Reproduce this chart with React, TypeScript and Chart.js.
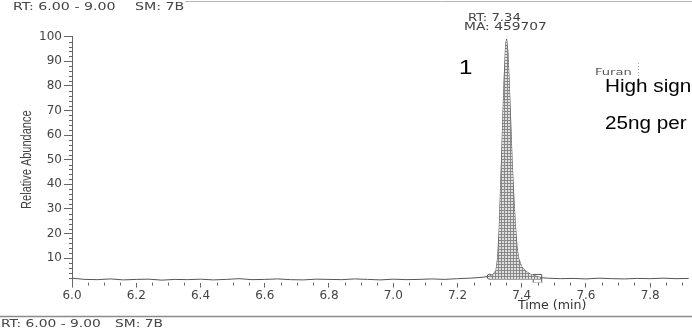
import { useEffect, useRef } from 'react';
import { Chart, registerables } from 'chart.js';

Chart.register(...registerables);

// ---- data ----
const baseTimes = [6.0, 6.04, 6.08, 6.12, 6.16, 6.2, 6.24, 6.28, 6.32, 6.36, 6.4, 6.44, 6.48, 6.52, 6.56, 6.6, 6.64, 6.68, 6.72, 6.76, 6.8, 6.84, 6.88, 6.92, 6.96, 7.0, 7.04, 7.08, 7.12, 7.16, 7.2, 7.24, 7.28];
const baseValues = [1.8, 1.3, 1.2, 1.5, 1.1, 1.3, 1.4, 1.0, 1.3, 1.2, 1.4, 1.1, 1.3, 1.6, 1.2, 1.3, 1.5, 1.2, 1.1, 1.4, 1.3, 1.2, 1.5, 1.3, 1.1, 1.4, 1.2, 1.3, 1.5, 1.3, 1.6, 1.8, 2.2];
const peakTimes = [7.3, 7.31, 7.32, 7.325, 7.33, 7.335, 7.34, 7.345, 7.35, 7.353, 7.357, 7.36, 7.365, 7.37, 7.375, 7.38, 7.385, 7.39, 7.4, 7.41, 7.42, 7.43, 7.44, 7.45, 7.46];
const peakValues = [2.6, 3.2, 5, 10, 22, 42, 62, 82, 97, 99, 94, 85, 68, 50, 36, 24, 15, 10, 6.5, 5, 4, 3.2, 2.8, 2.4, 2.0];
const tailTimes = [7.48, 7.52, 7.56, 7.6, 7.64, 7.68, 7.72, 7.76, 7.8, 7.84, 7.88, 7.92];
const tailValues = [1.8, 1.6, 1.7, 1.5, 1.8, 1.6, 1.5, 1.7, 1.6, 1.8, 1.6, 1.7];

const markerTimes = [7.3, 7.449];
const markerValues = [2.4, 1.6];

const xTickValues = [6.0, 6.2, 6.4, 6.6, 6.8, 7.0, 7.2, 7.4, 7.6, 7.8];
const yTickValues = [10, 20, 30, 40, 50, 60, 70, 80, 90, 100];

const headerRange = 'RT: 6.00 - 9.00';
const headerSmooth = 'SM: 7B';
const peakRT = 'RT: 7.34';
const peakArea = 'MA: 459707';
const peakNumber = '1';
const compoundName = 'Furan';
const noteLine1 = 'High signal';
const noteLine2 = '25ng per ml';
const yTitle = 'Relative Abundance';
const xTitle = 'Time (min)';

const X_MIN = 6.0;
const X_MAX = 7.927;

const scanFont = '"DejaVu Sans", sans-serif';

function stretchedText(ctx: CanvasRenderingContext2D, text: string, x: number, y: number, font: string, color: string, sx: number) {
  ctx.save();
  ctx.font = font;
  ctx.fillStyle = color;
  ctx.textAlign = 'left';
  ctx.textBaseline = 'alphabetic';
  ctx.translate(x, y);
  ctx.scale(sx, 1);
  ctx.fillText(text, 0, 0);
  ctx.restore();
}

const decorPlugin = {
  id: 'decor',
  afterDraw(chart: any) {
    const ctx: CanvasRenderingContext2D = chart.ctx;
    const xs = chart.scales.x;
    const ys = chart.scales.y;
    const area = chart.chartArea;
    ctx.save();
    // minor ticks
    ctx.strokeStyle = '#666';
    ctx.lineWidth = 1;
    ctx.beginPath();
    for (let i = 0; i <= 38; i++) {
      if (i % 4 === 0) continue;
      const v = X_MIN + i * 0.05;
      if (v > X_MAX) break;
      const px = Math.round(xs.getPixelForValue(v)) + 0.5;
      ctx.moveTo(px, area.bottom);
      ctx.lineTo(px, area.bottom + 3);
    }
    for (let i = 1; i <= 50; i++) {
      if (i % 5 === 0) continue;
      const py = Math.round(ys.getPixelForValue(i * 2)) + 0.5;
      ctx.moveTo(area.left - 3, py);
      ctx.lineTo(area.left, py);
    }
    ctx.stroke();

    // scan frame lines
    ctx.strokeStyle = '#b5b5b5';
    ctx.beginPath();
    ctx.moveTo(185, 1.5);
    ctx.lineTo(698, 1.5);
    ctx.stroke();
    ctx.strokeStyle = '#8a8a8a';
    ctx.lineWidth = 1.3;
    ctx.beginPath();
    ctx.moveTo(0, 316.5);
    ctx.lineTo(698, 316.5);
    ctx.stroke();

    // header / footer
    const f10 = `10px ${scanFont}`;
    stretchedText(ctx, headerRange, 13, 10, f10, '#444', 1.42);
    stretchedText(ctx, headerSmooth, 135, 10, f10, '#444', 1.42);
    stretchedText(ctx, headerRange, 1, 327, f10, '#444', 1.38);
    stretchedText(ctx, headerSmooth, 115, 327, f10, '#444', 1.38);

    // peak annotation
    stretchedText(ctx, peakRT, 468, 21, f10, '#444', 1.32);
    stretchedText(ctx, peakArea, 464, 29.5, f10, '#444', 1.38);
    stretchedText(ctx, compoundName, 595, 75, `9px ${scanFont}`, '#555', 1.45);
    ctx.strokeStyle = '#aaa';
    ctx.lineWidth = 1;
    ctx.setLineDash([1, 2]);
    ctx.beginPath();
    ctx.moveTo(638.5, 63);
    ctx.lineTo(638.5, 81);
    ctx.stroke();
    ctx.setLineDash([]);

    // overlay texts
    const arial = '"Liberation Sans", Arial, sans-serif';
    stretchedText(ctx, peakNumber, 459, 74, `21px ${arial}`, '#000', 1.15);
    stretchedText(ctx, noteLine1, 605, 92, `18px ${arial}`, '#000', 1.15);
    stretchedText(ctx, noteLine2, 605, 129, `18px ${arial}`, '#000', 1.15);

    // axis titles
    stretchedText(ctx, xTitle, 518, 309, `12px ${scanFont}`, '#333', 1.05);
    ctx.save();
    ctx.translate(26.7, (ys.getPixelForValue(100) + ys.getPixelForValue(0)) / 2);
    ctx.rotate(-Math.PI / 2);
    ctx.scale(1, 1.35);
    ctx.font = `11px ${arial}`;
    ctx.fillStyle = '#444';
    ctx.textAlign = 'center';
    ctx.textBaseline = 'middle';
    ctx.fillText(yTitle, 0, 0);
    ctx.restore();

    ctx.restore();
  },
};

export default function App() {
  const ref = useRef<HTMLCanvasElement | null>(null);

  useEffect(() => {
    document.body.style.margin = '0';
    const canvas = ref.current;
    if (!canvas) return;
    const ctx = canvas.getContext('2d')!;

    const pc = document.createElement('canvas');
    pc.width = 3;
    pc.height = 3;
    const p = pc.getContext('2d')!;
    p.fillStyle = '#e0e0e0';
    p.fillRect(0, 0, 3, 3);
    p.fillStyle = '#888';
    p.fillRect(0, 0, 1, 3);
    p.fillRect(0, 0, 3, 1);
    const pattern = ctx.createPattern(pc, 'repeat');

    const allTimes = [...baseTimes, ...peakTimes, ...tailTimes];
    const allValues = [...baseValues, ...peakValues, ...tailValues];
    const trace = allTimes.map((t, i) => ({ x: t, y: allValues[i] }));
    const peak = peakTimes.map((t, i) => ({ x: t, y: peakValues[i] }));
    const markers = markerTimes.map((t, i) => ({ x: t, y: markerValues[i] }));

    const chart = new Chart(canvas, {
      type: 'line',
      data: {
        datasets: [
          {
            data: peak,
            borderColor: 'rgba(0,0,0,0)',
            borderWidth: 0,
            backgroundColor: pattern as any,
            fill: { value: 1.2 } as any,
            pointRadius: 0,
            tension: 0,
          },
          {
            data: trace,
            borderColor: '#555',
            borderWidth: 1,
            pointRadius: 0,
            fill: false,
            tension: 0,
          },
          {
            type: 'scatter' as any,
            data: markers,
            pointStyle: ['circle', 'rect'] as any,
            pointRadius: [2.5, 6] as any,
            backgroundColor: '#fff',
            borderColor: '#555',
            borderWidth: 1,
            showLine: false,
          },
        ],
      },
      options: {
        animation: false,
        responsive: false,
        maintainAspectRatio: false,
        layout: { padding: { top: 36.7, left: 0, right: 0, bottom: 0 } },
        plugins: {
          legend: { display: false },
          tooltip: { enabled: false },
        },
        scales: {
          x: {
            type: 'linear',
            min: X_MIN,
            max: X_MAX,
            afterBuildTicks: (axis: any) => {
              axis.ticks = xTickValues.map((v) => ({ value: v }));
            },
            afterFit: (axis: any) => {
              axis.height = 45.4;
            },
            ticks: {
              callback: (v: any) => Number(v).toFixed(1),
              font: { family: 'DejaVu Sans', size: 12 },
              color: '#444',
              padding: 1,
              maxRotation: 0,
              autoSkip: false,
            },
            grid: { drawOnChartArea: false, drawTicks: true, tickLength: 5, color: '#666' },
            border: { display: false },
          },
          y: {
            type: 'linear',
            min: 0,
            max: 100,
            afterBuildTicks: (axis: any) => {
              axis.ticks = yTickValues.map((v) => ({ value: v }));
            },
            afterFit: (axis: any) => {
              axis.width = 72;
            },
            ticks: {
              callback: (v: any) => String(v),
              font: { family: 'DejaVu Sans', size: 12 },
              color: '#444',
              padding: 2,
              autoSkip: false,
            },
            grid: { drawOnChartArea: false, drawTicks: true, tickLength: 8, color: '#666' },
            border: { display: true, color: '#666', width: 1 },
          },
        },
      },
      plugins: [decorPlugin],
    });

    return () => chart.destroy();
  }, []);

  return (
    <div style={{ width: 692, height: 328, overflow: 'hidden' }}>
      <canvas ref={ref} width={698} height={328} style={{ display: 'block', width: 698, height: 328 }} />
    </div>
  );
}
